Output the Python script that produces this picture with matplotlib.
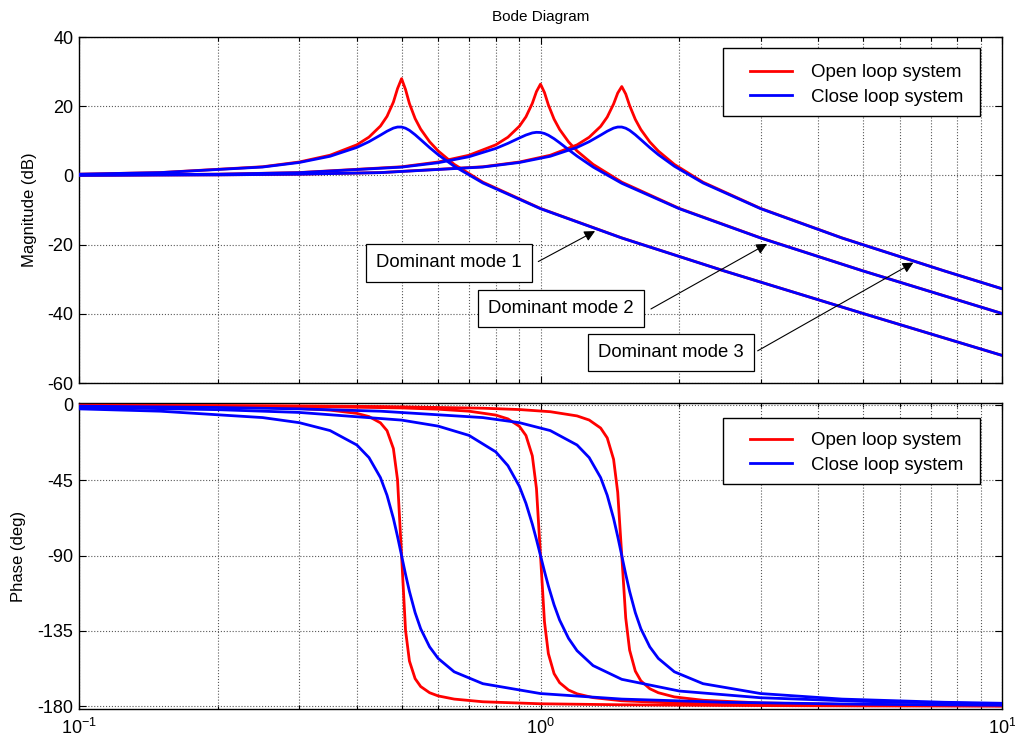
import matplotlib
matplotlib.use("Agg")
import matplotlib.pyplot as plt
from matplotlib.patches import Rectangle
from matplotlib.ticker import LogLocator, NullFormatter, FixedLocator

plt.rcParams['font.family'] = ['Liberation Sans', 'DejaVu Sans']
plt.rcParams['mathtext.fontset'] = 'custom'
plt.rcParams['mathtext.rm'] = 'Liberation Sans'
plt.rcParams['mathtext.it'] = 'Liberation Sans:italic'
plt.rcParams['mathtext.default'] = 'regular'
plt.rcParams['axes.unicode_minus'] = False

# ---------------- data ----------------
w1 = [0.1, 0.15, 0.25, 0.3, 0.35, 0.4, 0.425, 0.45, 0.465, 0.48, 0.49, 0.5, 0.51,
      0.52, 0.535, 0.55, 0.575, 0.6, 0.65, 0.75, 1.0, 1.5, 2.5, 5.0, 10.0]
mag_open1 = [0.35, 0.82, 2.50, 3.87, 5.84, 8.84, 11.07, 14.27, 17.07, 21.18, 25.08, 27.96, 24.82,
             20.76, 16.42, 13.37, 9.74, 7.08, 3.20, -1.95, -9.55, -18.06, -27.60, -39.91, -52.02]
phase_open1 = [-0.48, -0.76, -1.53, -2.15, -3.14, -5.08, -6.99, -10.73, -15.39, -26.1, -44.7, -90.0, -134.7,
               -153.0, -163.5, -168.2, -171.9, -173.8, -175.7, -177.3, -178.5, -179.1, -179.5, -179.8, -179.9]
mag_close1 = [0.35, 0.80, 2.42, 3.73, 5.53, 8.09, 9.75, 11.64, 12.77, 13.67, 13.98, 13.98, 13.64,
              13.02, 11.75, 10.34, 8.04, 6.00, 2.65, -2.18, -9.62, -18.09, -27.61, -39.91, -52.02]
phase_close1 = [-2.39, -3.77, -7.59, -10.62, -15.35, -23.96, -31.49, -43.45, -54.0, -67.8, -78.6, -90.0, -101.2,
                -111.4, -124.1, -133.7, -144.5, -151.4, -159.4, -166.5, -172.4, -175.7, -177.6, -178.8, -179.4]

w2 = [0.1, 0.2, 0.3, 0.5, 0.6, 0.7, 0.8, 0.85, 0.9, 0.93, 0.96, 0.98, 1.0,
      1.02, 1.04, 1.07, 1.1, 1.15, 1.2, 1.3, 1.5, 2.0, 3.0, 5.0, 10.0]
mag_open2 = [0.09, 0.35, 0.82, 2.49, 3.87, 5.83, 8.83, 11.04, 14.21, 16.94, 20.82, 24.22, 26.38,
             23.95, 20.39, 16.26, 13.29, 9.70, 7.06, 3.19, -1.95, -9.55, -18.06, -27.60, -39.91]
phase_open2 = [-0.28, -0.57, -0.91, -1.83, -2.58, -3.77, -6.09, -8.36, -12.81, -18.28, -30.45, -49.91, -90.0,
               -129.53, -148.54, -160.48, -165.89, -170.29, -172.54, -174.83, -176.70, -178.17, -178.97, -179.43, -179.72]
mag_close2 = [0.09, 0.34, 0.79, 2.39, 3.66, 5.40, 7.79, 9.26, 10.82, 11.67, 12.28, 12.45, 12.40,
              12.11, 11.61, 10.61, 9.44, 7.44, 5.58, 2.42, -2.28, -9.65, -18.10, -27.62, -39.92]
phase_close2 = [-1.39, -2.86, -4.52, -9.09, -12.68, -18.23, -28.07, -36.32, -48.66, -58.8, -71.2, -80.4, -90.0,
                -99.4, -108.1, -119.4, -128.5, -139.4, -146.8, -155.7, -163.9, -170.9, -174.9, -177.1, -178.6]

w3 = [0.1, 0.2, 0.3, 0.45, 0.75, 0.9, 1.05, 1.2, 1.275, 1.35, 1.395, 1.44, 1.47,
      1.5, 1.53, 1.56, 1.605, 1.65, 1.725, 1.8, 1.95, 2.25, 3.0, 4.5, 7.5, 10.0]
mag_open3 = [0.04, 0.16, 0.35, 0.82, 2.49, 3.87, 5.83, 8.82, 11.03, 14.17, 16.86, 20.64, 23.80,
             25.68, 23.52, 20.18, 16.18, 13.24, 9.68, 7.04, 3.18, -1.96, -9.55, -18.06, -27.60, -32.76]
phase_open3 = [-0.2, -0.4, -0.62, -0.98, -1.99, -2.79, -4.08, -6.59, -9.05, -13.84, -19.7, -32.5, -52.2,
               -90.0, -127.3, -146.5, -159.0, -164.8, -169.5, -171.9, -174.4, -176.4, -178.0, -178.9, -179.4, -179.5]
mag_close3 = [0.04, 0.15, 0.35, 0.80, 2.42, 3.73, 5.53, 8.09, 9.75, 11.64, 12.77, 13.67, 13.98,
              13.98, 13.64, 13.02, 11.75, 10.34, 8.04, 6.00, 2.65, -2.18, -9.62, -18.09, -27.61, -32.76]
phase_close3 = [-0.77, -1.56, -2.39, -3.77, -7.59, -10.62, -15.35, -23.96, -31.49, -43.45, -54.0, -67.8, -78.6,
                -90.0, -101.2, -111.4, -124.1, -133.7, -144.5, -151.4, -159.4, -166.5, -172.4, -175.7, -177.6, -178.2]

series_labels = ["Open loop system", "Close loop system"]
mag_yticks = [-60, -40, -20, 0, 20, 40]
phase_yticks = [-180, -135, -90, -45, 0]

annot_texts = ["Dominant mode 1", "Dominant mode 2", "Dominant mode 3"]
annot_box_xy = [(0.633, -25.3), (1.109, -38.5), (1.920, -51.2)]
annot_tail_xy = [(0.989, -24.9), (1.735, -38.6), (2.955, -50.7)]
annot_head_xy = [(1.313, -16.1), (3.096, -19.8), (6.426, -25.2)]

RED = '#ff0000'
BLUE = '#0000ff'
LW = 2.0
FS_TICK = 13
FS_LEG = 13.5

# ---------------- figure ----------------
fig = plt.figure(figsize=(10.15, 7.44), dpi=100)
W, H = 1015.0, 744.0
x0, x1 = 79.0, 1002.0
ax1 = fig.add_axes([x0 / W, 1 - 383.0 / H, (x1 - x0) / W, (383.0 - 37.0) / H])
ax2 = fig.add_axes([x0 / W, 1 - 709.3 / H, (x1 - x0) / W, (709.3 - 402.7) / H])

opens_mag = [(w1, mag_open1), (w2, mag_open2), (w3, mag_open3)]
close_mag = [(w1, mag_close1), (w2, mag_close2), (w3, mag_close3)]
opens_ph = [(w1, phase_open1), (w2, phase_open2), (w3, phase_open3)]
close_ph = [(w1, phase_close1), (w2, phase_close2), (w3, phase_close3)]

for ax, op, cl in [(ax1, opens_mag, close_mag), (ax2, opens_ph, close_ph)]:
    for i, (w, v) in enumerate(op):
        ax.plot(w, v, color=RED, lw=LW, label=series_labels[0] if i == 0 else None, zorder=3)
    for i, (w, v) in enumerate(cl):
        ax.plot(w, v, color=BLUE, lw=LW, label=series_labels[1] if i == 0 else None, zorder=4)

for ax in (ax1, ax2):
    ax.set_xscale('log')
    ax.set_xlim(0.1, 10)
    ax.xaxis.set_major_locator(LogLocator(base=10, numticks=5))
    ax.xaxis.set_minor_locator(LogLocator(base=10, subs=range(2, 10), numticks=20))
    ax.xaxis.set_minor_formatter(NullFormatter())
    ax.grid(True, which='major', axis='both', linestyle=':', color='0.35', lw=0.8)
    ax.grid(True, which='minor', axis='x', linestyle=':', color='0.35', lw=0.8)
    ax.tick_params(which='both', direction='in', top=True, right=True, labelsize=FS_TICK,
                   width=0.8, pad=4)
    ax.tick_params(which='major', length=5)
    ax.tick_params(which='minor', length=3)
    for s in ax.spines.values():
        s.set_linewidth(1.0)
    ax.set_axisbelow(True)

ax1.set_ylim(-60, 40)
ax1.yaxis.set_major_locator(FixedLocator(mag_yticks))
ax1.tick_params(axis='x', which='both', labelbottom=False)
ax2.set_ylim(-181.8, 1.3)
ax2.yaxis.set_major_locator(FixedLocator(phase_yticks))
ax2.tick_params(axis='x', which='major', pad=6)

ax1.set_ylabel("Magnitude (dB)", fontsize=12)
ax1.yaxis.set_label_coords(-0.046, 0.5)
ax2.set_ylabel("Phase (deg)", fontsize=12)
ax2.yaxis.set_label_coords(-0.057, 0.5)

fig.text((x0 + x1) / 2 / W, 1 - 17.0 / H, "Bode Diagram", ha='center', va='center', fontsize=11)

# legends with framed boxes
def add_legend(ax, box_top_px, box_bot_px, ax_top_px, ax_bot_px, row1_px):
    hgt = ax_bot_px - ax_top_px
    bx0 = (723.0 - x0) / (x1 - x0)
    bx1 = (980.0 - x0) / (x1 - x0)
    by0 = (ax_bot_px - box_bot_px) / hgt
    by1 = (ax_bot_px - box_top_px) / hgt
    ax.add_patch(Rectangle((bx0, by0), bx1 - bx0, by1 - by0, transform=ax.transAxes,
                           facecolor='white', edgecolor='black', lw=1.0, zorder=5))
    leg = ax.legend(loc='upper left', bbox_to_anchor=((750.0 - x0) / (x1 - x0),
                                                      (ax_bot_px - (row1_px - 6)) / hgt),
                    frameon=False, borderpad=0, borderaxespad=0, handlelength=2.25,
                    handletextpad=1.0, labelspacing=0.4, fontsize=FS_LEG)
    leg.set_zorder(6)

add_legend(ax1, 48.0, 116.0, 37.0, 383.0, 70.0)
add_legend(ax2, 418.0, 484.0, 402.7, 709.3, 438.3)

# annotations
for txt, bxy, txy, hxy in zip(annot_texts, annot_box_xy, annot_tail_xy, annot_head_xy):
    ax1.text(bxy[0], bxy[1], txt, ha='center', va='center', fontsize=13.3, zorder=7,
             bbox=dict(boxstyle='square,pad=0.55', facecolor='white', edgecolor='black', lw=0.9))
    ax1.annotate('', xy=hxy, xytext=txy, zorder=7,
                 arrowprops=dict(arrowstyle='-|>', color='black', lw=0.8,
                                 mutation_scale=16, shrinkA=0, shrinkB=0))

fig.savefig("out.png", dpi=100)
